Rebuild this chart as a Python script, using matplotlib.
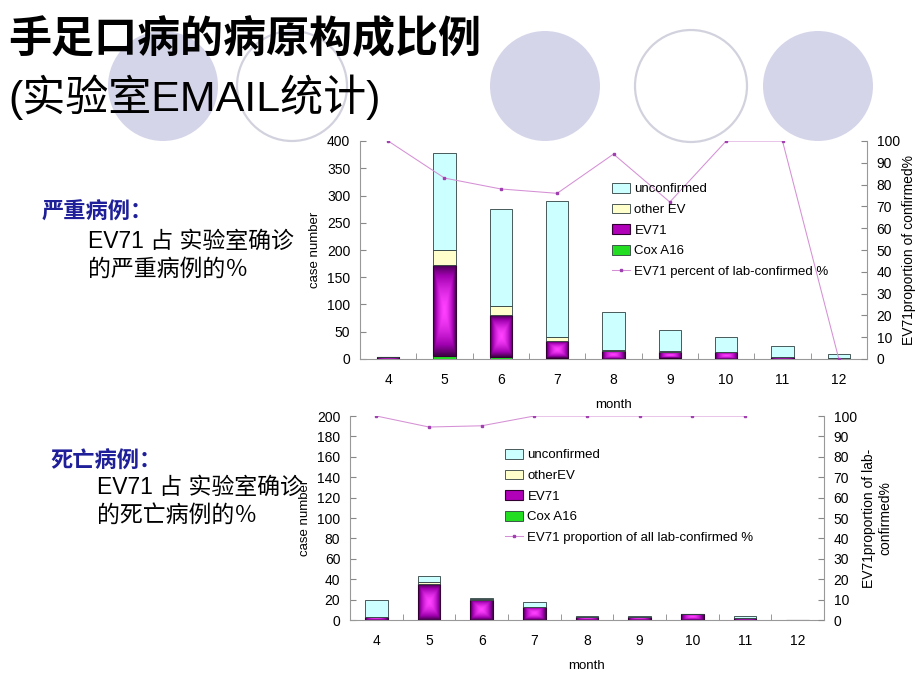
import numpy as np
import matplotlib
matplotlib.use("Agg")
import matplotlib.pyplot as plt
from matplotlib.patches import Circle, Patch
from matplotlib.lines import Line2D
from matplotlib.colors import LinearSegmentedColormap

plt.rcParams['font.family'] = ['Liberation Sans', 'Noto Sans CJK SC', 'DejaVu Sans']

months = ["4", "5", "6", "7", "8", "9", "10", "11", "12"]

# 严重病例 (case number)
severe_cox = [0, 5, 3, 2, 0, 2, 0, 0, 0]
severe_ev71 = [3, 167, 77, 31, 15, 10, 12, 4, 0]
severe_other = [0, 28, 18, 8, 1, 2, 0, 0, 1]
severe_unconf = [0, 178, 177, 248, 71, 39, 28, 19, 8]
severe_pct = [100, 83, 78, 76, 94, 72, 100, 100, 0]

# 死亡病例 (case number)
death_cox = [0, 0, 0, 0, 0, 0, 0, 0, 0]
death_ev71 = [3, 35, 20, 13, 3, 3, 6, 2, 0]
death_other = [0, 2, 1, 0, 0, 0, 0, 0, 0]
death_unconf = [17, 6, 1, 5, 1, 1, 0, 2, 0]
death_pct = [100, 94.6, 95.2, 100, 100, 100, 100, 100, np.nan]

# background decoration (pixel coords)
filled_circles = [(163, 86, 55), (545, 86, 55), (818, 86, 55)]
ring_circles = [(292, 86, 55), (691, 86, 56)]

C_UNCONF = "#ccffff"
C_OTHER = "#ffffcc"
C_COX = "#22dd22"
C_LINE = "#d590d5"
C_MARK = "#a040b0"
EDGE = "#2f3f3f"
ev_cmap = LinearSegmentedColormap.from_list(
    "ev", [(0, "#42004a"), (0.35, "#a000b0"), (1, "#ff40ff")])

fig = plt.figure(figsize=(9.2, 6.9), dpi=100)

bg = fig.add_axes([0, 0, 1, 1], zorder=-10)
bg.set_xlim(0, 920)
bg.set_ylim(690, 0)
bg.axis('off')
for cx, cy, r in filled_circles:
    bg.add_patch(Circle((cx, cy), r, facecolor="#d5d5ea", edgecolor="none"))
for cx, cy, r in ring_circles:
    bg.add_patch(Circle((cx, cy), r, facecolor="none", edgecolor="#d2d2de", lw=1.6))


def shade_bars(ax, bars):
    yy, xx = np.mgrid[-1:1:60j, -1:1:60j]
    d = np.maximum(np.abs(xx), np.abs(yy))
    g = 1 - d ** 1.6
    for r in bars:
        h = r.get_height()
        if h <= 0:
            continue
        x, y, w = r.get_x(), r.get_y(), r.get_width()
        im = ax.imshow(g, extent=[x, x + w, y, y + h], cmap=ev_cmap, aspect='auto',
                       origin='lower', interpolation='bilinear', zorder=2)
        im.set_clip_path(r)


def draw_chart(rect, cox, ev71, other, unconf, pct, ymax, ystep, width,
               rlabel, labels, legend_xy, lpad_l, lpad_r):
    ax = fig.add_axes(rect)
    ax.set_facecolor('none')
    x = np.arange(len(months))
    cox = np.array(cox)
    ev71 = np.array(ev71)
    other = np.array(other)
    unconf = np.array(unconf)

    ax.bar(x, cox, width, color=C_COX, edgecolor=EDGE, lw=0.6, zorder=3)
    b_ev = ax.bar(x, ev71, width, bottom=cox, facecolor='none', edgecolor="#300030", lw=0.8, zorder=3)
    shade_bars(ax, b_ev)
    ax.bar(x, other, width, bottom=cox + ev71, color=C_OTHER, edgecolor=EDGE, lw=0.6, zorder=3)
    ax.bar(x, unconf, width, bottom=cox + ev71 + other, color=C_UNCONF, edgecolor=EDGE, lw=0.6, zorder=3)

    ax.set_xlim(-0.5, len(months) - 0.5)
    ax.set_ylim(0, ymax)
    ax.set_yticks(np.arange(0, ymax + 1, ystep))
    ax.set_xticks(x)
    ax.set_xticklabels(months)
    ax.set_xticks(np.arange(-0.5, len(months), 1), minor=True)
    ax.tick_params(axis='x', which='major', length=0, labelsize=10, pad=10)
    ax.tick_params(axis='x', which='minor', direction='in', length=4, color='#888888')
    ax.tick_params(axis='y', direction='in', length=4, color='#888888', labelsize=10, pad=7)
    for s in ['top', 'right']:
        ax.spines[s].set_visible(False)
    for s in ['left', 'bottom']:
        ax.spines[s].set_color('#999999')
    ax.set_xlabel("month", fontsize=9.5, labelpad=9)
    ax.set_ylabel("case number", fontsize=9.5, labelpad=lpad_l)

    ax2 = ax.twinx()
    ax2.plot(x, pct, color=C_LINE, lw=0.75, marker='s', markersize=1.8,
             markerfacecolor=C_MARK, markeredgecolor=C_MARK)
    ax2.set_ylim(0, 100)
    ax2.set_yticks(np.arange(0, 101, 10))
    ax2.tick_params(axis='y', direction='in', length=4, color='#888888', labelsize=10, pad=7)
    for s in ['top', 'left', 'bottom']:
        ax2.spines[s].set_visible(False)
    ax2.spines['right'].set_color('#999999')
    ax2.set_ylabel(rlabel, fontsize=10, labelpad=lpad_r)

    handles = [
        Patch(facecolor=C_UNCONF, edgecolor=EDGE, lw=0.6),
        Patch(facecolor=C_OTHER, edgecolor=EDGE, lw=0.6),
        Patch(facecolor="#b000b8", edgecolor="#300030", lw=0.8),
        Patch(facecolor=C_COX, edgecolor=EDGE, lw=0.6),
        Line2D([], [], color=C_LINE, lw=0.75, marker='s', markersize=1.8,
               markerfacecolor=C_MARK, markeredgecolor=C_MARK),
    ]
    ax2.legend(handles, labels, loc='upper left', bbox_to_anchor=legend_xy,
               bbox_transform=fig.transFigure, frameon=False, fontsize=9.5,
               handlelength=1.4, handleheight=0.75, labelspacing=0.62,
               handletextpad=0.3, borderpad=0, borderaxespad=0)
    return ax, ax2


draw_chart([360 / 920, 1 - 359 / 690, 507 / 920, 218 / 690],
           severe_cox, severe_ev71, severe_other, severe_unconf, severe_pct,
           400, 50, 0.4, "EV71proportion of confirmed%",
           ["unconfirmed", "other EV", "EV71", "Cox A16", "EV71 percent of lab-confirmed %"],
           (612 / 920, 1 - 183 / 690), 4.5, 1.5)

draw_chart([350 / 920, 1 - 620 / 690, 474 / 920, 204 / 690],
           death_cox, death_ev71, death_other, death_unconf, death_pct,
           200, 20, 0.43, "EV71proportion of lab-\nconfirmed%",
           ["unconfirmed", "otherEV", "EV71", "Cox A16", "EV71 proportion of all lab-confirmed %"],
           (505 / 920, 1 - 449 / 690), 4.5, 3.5)

# title
fig.text(8 / 920, 1 - 40 / 690, "手足口病的病原构成比例", fontsize=31, weight='bold', va='center')
fig.text(8 / 920, 1 - 97 / 690, "(实验室EMAIL统计)", fontsize=31, va='center')

# side notes
blue = "#1f1f99"
fig.text(42 / 920, 1 - 213 / 690, "严重病例：", fontsize=16, weight='bold', color=blue, va='center')
fig.text(88 / 920, 1 - 241 / 690, "EV71 占 实验室确诊", fontsize=16.5, va='center')
fig.text(88 / 920, 1 - 269 / 690, "的严重病例的％", fontsize=16.5, va='center')
fig.text(50 / 920, 1 - 462 / 690, "死亡病例：", fontsize=16, weight='bold', color=blue, va='center')
fig.text(97 / 920, 1 - 487 / 690, "EV71 占 实验室确诊", fontsize=16.5, va='center')
fig.text(97 / 920, 1 - 515 / 690, "的死亡病例的％", fontsize=16.5, va='center')

fig.savefig("out.png", dpi=100)
